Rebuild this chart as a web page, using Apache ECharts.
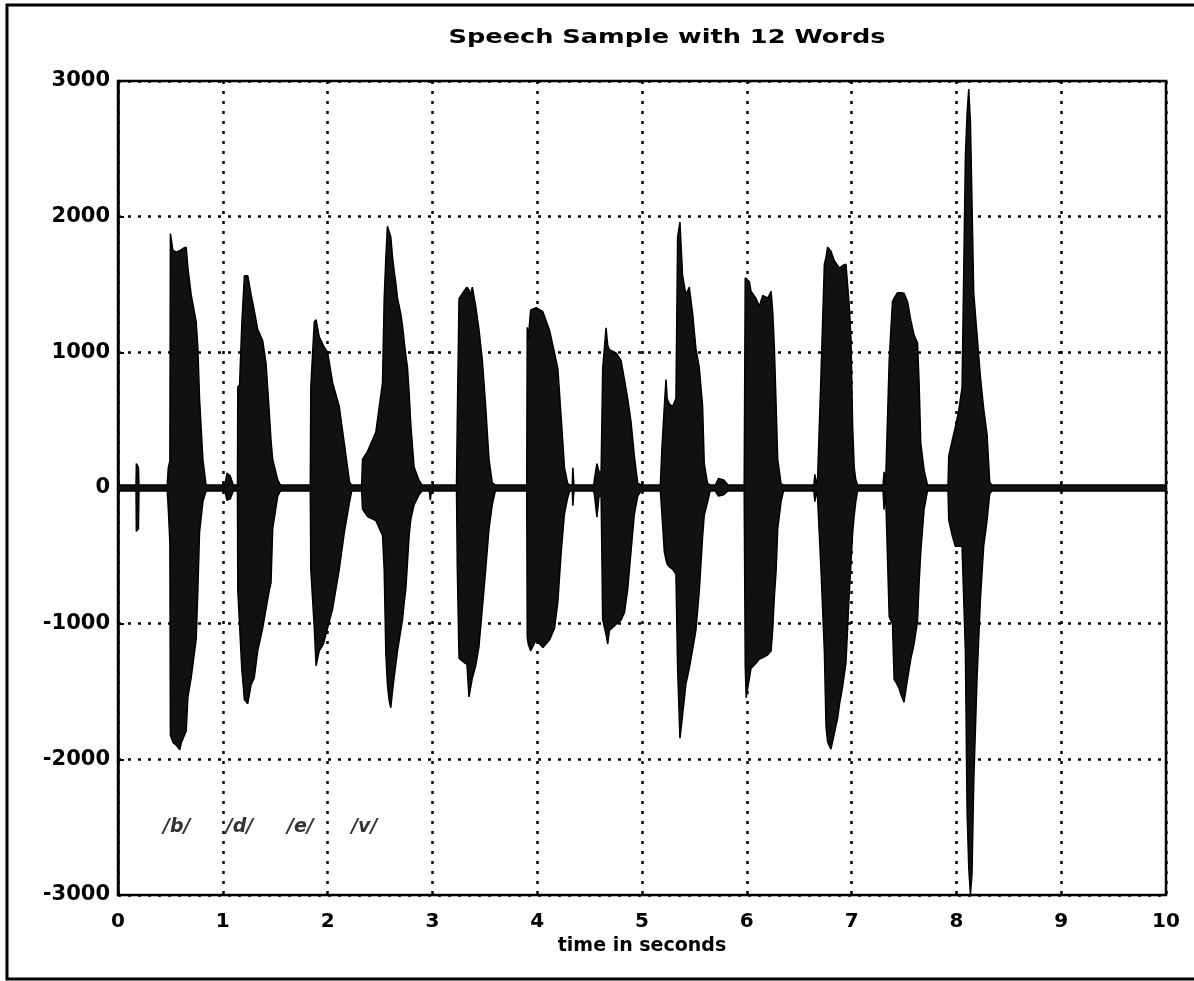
<!DOCTYPE html>
<html>
<head>
<meta charset="utf-8">
<script src="https://cdn.jsdelivr.net/npm/echarts@6/dist/echarts.min.js"></script>
<style>
  html, body { margin: 0; padding: 0; background: #fff; }
  #chart { width: 1194px; height: 981px; }
</style>
</head>
<body>
<div id="chart"></div>
<script>
// ---- Data (signal envelope: time in s, upper / lower amplitude) ----
const timeS = [
  0.00, 0.172, 0.175, 0.195, 0.20,
  0.47, 0.48, 0.495, 0.50, 0.524, 0.56, 0.59, 0.603, 0.63, 0.651, 0.667, 0.698, 0.746, 0.762, 0.778, 0.81, 0.84,
  1.02, 1.04, 1.07, 1.10,
  1.14, 1.143, 1.16, 1.181, 1.206, 1.238, 1.27, 1.30, 1.333, 1.381, 1.413, 1.444, 1.46, 1.476, 1.524, 1.55,
  1.835, 1.84, 1.873, 1.89, 1.92, 1.96, 2.00, 2.048, 2.11, 2.16, 2.21, 2.23,
  2.325, 2.333, 2.381, 2.46, 2.524, 2.54, 2.556, 2.571, 2.587, 2.603, 2.619, 2.635, 2.651, 2.667, 2.698, 2.714, 2.73, 2.746, 2.762, 2.778, 2.794, 2.825, 2.873, 2.90,
  2.97, 2.98, 2.99,
  3.23, 3.238, 3.254, 3.30, 3.33, 3.349, 3.36, 3.381, 3.413, 3.444, 3.476, 3.508, 3.54, 3.571, 3.60,
  3.90, 3.905, 3.915, 3.937, 3.99, 4.054, 4.117, 4.165, 4.197, 4.229, 4.26, 4.29, 4.31,
  4.335, 4.34, 4.35,
  4.54, 4.546, 4.57, 4.59, 4.61, 4.625, 4.657, 4.673, 4.689, 4.752, 4.80, 4.832, 4.863, 4.895, 4.927, 4.959, 4.99,
  5.175, 5.19, 5.213, 5.229, 5.24, 5.26, 5.292, 5.324, 5.34, 5.362, 5.387, 5.419, 5.451, 5.483, 5.514, 5.546, 5.578, 5.594, 5.625, 5.65,
  5.70, 5.73, 5.78, 5.82,
  5.975, 5.985, 5.994, 6.025, 6.04, 6.089, 6.12, 6.152, 6.20, 6.232, 6.248, 6.263, 6.28, 6.295, 6.327, 6.35,
  6.64, 6.65, 6.66,
  6.676, 6.708, 6.74, 6.756, 6.771, 6.787, 6.803, 6.835, 6.867, 6.883, 6.914, 6.946, 6.978, 6.994, 7.01, 7.025, 7.04, 7.057,
  7.30, 7.31, 7.32,
  7.327, 7.359, 7.39, 7.406, 7.422, 7.438, 7.454, 7.47, 7.50, 7.533, 7.565, 7.597, 7.629, 7.644, 7.66, 7.692, 7.724,
  7.92, 7.927, 7.96, 7.99, 8.02, 8.054, 8.086, 8.102, 8.118, 8.134, 8.149, 8.165, 8.197, 8.229, 8.26, 8.293, 8.318, 8.34,
  10.0
];
const upperEnv = [
  22, 22, 180, 150, 22,
  22, 150, 200, 1875, 1750, 1740, 1750, 1760, 1770, 1775, 1620, 1425, 1225, 1030, 660, 210, 22,
  22, 110, 90, 22,
  22, 745, 760, 1200, 1565, 1565, 1425, 1310, 1170, 1085, 915, 550, 350, 210, 60, 22,
  22, 745, 1225, 1240, 1115, 1050, 1000, 775, 605, 325, 40, 22,
  22, 210, 270, 410, 775, 1395, 1700, 1930, 1930, 1850, 1705, 1600, 1510, 1400, 1285, 1200, 1085, 980, 890, 700, 465, 155, 56, 22,
  22, 22, 22,
  22, 520, 1395, 1450, 1480, 1460, 1420, 1480, 1340, 1170, 945, 605, 210, 40, 22,
  22, 1185, 1100, 1310, 1330, 1300, 1165, 995, 880, 515, 150, 35, 22,
  22, 150, 22,
  22, 65, 180, 120, 120, 880, 1180, 1050, 1020, 995, 940, 800, 660, 490, 235, 35, 22,
  22, 290, 600, 800, 660, 620, 600, 660, 1850, 1960, 1565, 1425, 1480, 1285, 1030, 890, 605, 180, 35, 22,
  22, 70, 60, 22,
  22, 1550, 1550, 1520, 1450, 1395, 1340, 1420, 1400, 1450, 1290, 1030, 605, 210, 30, 22,
  22, 100, 22,
  80, 830, 1650, 1700, 1775, 1760, 1745, 1675, 1640, 1620, 1640, 1650, 1340, 1100, 450, 150, 60, 22,
  22, 120, 22,
  100, 945, 1375, 1400, 1420, 1440, 1450, 1440, 1435, 1375, 1235, 1125, 1070, 775, 330, 130, 22,
  22, 235, 350, 450, 560, 740, 2450, 2760, 2940, 2690, 2100, 1440, 1130, 820, 585, 390, 40, 22,
  22
];
const lowerEnv = [
  -22, -22, -320, -300, -22,
  -22, -155, -400, -1820, -1875, -1900, -1930, -1880, -1830, -1790, -1540, -1400, -1115, -750, -325, -100, -22,
  -22, -90, -80, -22,
  -22, -750, -760, -1330, -1560, -1590, -1450, -1400, -1200, -1030, -890, -750, -700, -300, -60, -22,
  -22, -605, -1030, -1310, -1200, -1150, -1030, -890, -605, -325, -100, -22,
  -22, -155, -210, -240, -350, -605, -1225, -1450, -1565, -1620, -1500, -1395, -1300, -1200, -1050, -975, -850, -750, -550, -350, -230, -125, -50, -22,
  -22, -90, -22,
  -22, -600, -1255, -1285, -1300, -1540, -1550, -1400, -1310, -1170, -890, -605, -300, -125, -22,
  -22, -1100, -1150, -1200, -1120, -1175, -1120, -1035, -840, -470, -190, -75, -22,
  -22, -130, -22,
  -22, -50, -215, -60, -60, -970, -1080, -1150, -1050, -1005, -975, -920, -750, -470, -190, -60, -22,
  -22, -190, -470, -530, -560, -580, -600, -635, -1330, -1845, -1675, -1445, -1330, -1190, -1050, -765, -360, -200, -105, -22,
  -22, -60, -50, -22,
  -22, -1300, -1545, -1400, -1330, -1290, -1260, -1250, -1230, -1200, -1030, -800, -605, -300, -100, -22,
  -22, -100, -22,
  -80, -605, -1200, -1755, -1870, -1900, -1925, -1810, -1695, -1600, -1465, -1290, -770, -550, -330, -200, -100, -22,
  -22, -160, -22,
  -100, -950, -1000, -1410, -1430, -1435, -1480, -1520, -1580, -1410, -1260, -1145, -980, -700, -470, -155, -22,
  -22, -235, -350, -430, -430, -430, -1210, -2380, -2800, -3000, -2840, -2180, -1400, -820, -430, -235, -40, -22,
  -22
];

// Phoneme annotations
const phonemes = ['/b/', '/d/', '/e/', '/v/'];
const phonemeTimes = [0.56, 1.16, 1.74, 2.35];
const phonemeLevel = -2500;

// Axis ranges / ticks
const xMin = 0, xMax = 10, xStep = 1;
const yMin = -3000, yMax = 3000, yStep = 1000;

const titleText = 'Speech Sample with 12 Words';
const xAxisName = 'time in seconds';

// ---- Build chart ----
const upperData = timeS.map((t, i) => [t, upperEnv[i]]);
const lowerData = timeS.map((t, i) => [t, lowerEnv[i]]);
const phonemeData = phonemes.map((p, i) => ({ name: p, value: [phonemeTimes[i], phonemeLevel] }));

const FONT = '"DejaVu Sans", sans-serif';
const gridLine = { show: true, lineStyle: { color: '#000', type: [3, 7], width: 2.5 } };

const chart = echarts.init(document.getElementById('chart'), null, { renderer: 'canvas' });
chart.setOption({
  animation: false,
  backgroundColor: '#fff',
  grid: {
    left: 118, right: 28, top: 81, bottom: 86,
    show: true, borderColor: '#000', borderWidth: 2.5, backgroundColor: 'transparent'
  },
  xAxis: {
    type: 'value', min: xMin, max: xMax, interval: xStep,
    name: xAxisName, nameLocation: 'middle', nameGap: 42,
    nameTextStyle: { fontFamily: FONT, fontWeight: 'bold', fontSize: 19, color: '#000' },
    axisLine: { show: true, lineStyle: { color: '#000', width: 2.5 } },
    axisTick: { show: true, inside: true, length: 6, lineStyle: { color: '#000', width: 2 } },
    axisLabel: { margin: 17, fontFamily: FONT, fontWeight: 'bold', fontSize: 20, color: '#000' },
    splitLine: gridLine
  },
  yAxis: {
    type: 'value', min: yMin, max: yMax, interval: yStep,
    axisLine: { show: true, lineStyle: { color: '#000', width: 2.5 } },
    axisTick: { show: true, inside: true, length: 6, lineStyle: { color: '#000', width: 2 } },
    axisLabel: {
      margin: 8, fontFamily: FONT, fontWeight: 'bold', fontSize: 21, color: '#000',
      formatter: v => String(v)
    },
    splitLine: gridLine
  },
  graphic: [
    { type: 'polyline', silent: true, z: 100,
      shape: { points: [[1194, 5], [7, 5], [7, 979], [1194, 979]] },
      style: { stroke: '#000', lineWidth: 3, fill: null } },
    { type: 'text', silent: true, z: 100,
      x: 667, y: 38, scaleX: 1.28, scaleY: 1,
      style: {
        text: titleText, align: 'center', verticalAlign: 'middle',
        font: 'bold 20px "DejaVu Sans", sans-serif', fill: '#000'
      } }
  ],
  series: [
    {
      type: 'line', data: upperData, showSymbol: false, symbol: 'none',
      lineStyle: { color: '#000', width: 1.5 },
      areaStyle: { color: '#111', opacity: 1, origin: 0 },
      z: 5
    },
    {
      type: 'line', data: lowerData, showSymbol: false, symbol: 'none',
      lineStyle: { color: '#000', width: 1.5 },
      areaStyle: { color: '#111', opacity: 1, origin: 0 },
      z: 5
    },
    {
      type: 'scatter', data: phonemeData, symbolSize: 0,
      itemStyle: { color: 'rgba(0,0,0,0)' },
      label: {
        show: true, position: 'inside', formatter: p => p.name,
        fontFamily: FONT, fontStyle: 'italic', fontWeight: 'bold', fontSize: 19, color: '#000'
      },
      z: 6
    }
  ]
});
</script>
</body>
</html>
